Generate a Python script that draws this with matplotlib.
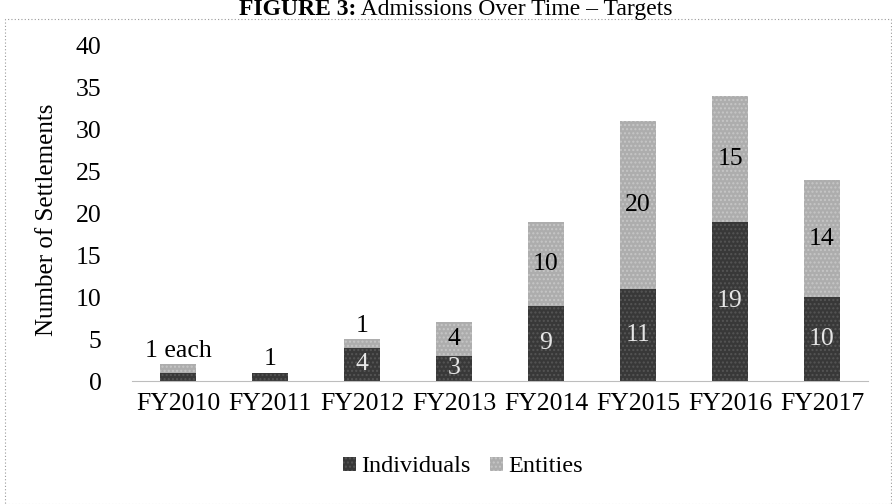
import matplotlib.pyplot as plt
from matplotlib.patches import Rectangle

# data
years = ["FY2010", "FY2011", "FY2012", "FY2013", "FY2014", "FY2015", "FY2016", "FY2017"]
individuals = [1, 1, 4, 3, 9, 11, 19, 10]
entities = [1, 0, 1, 4, 10, 20, 15, 14]
ind_labels = [None, None, "4", "3", "9", "11", "19", "10"]
ent_labels = [None, None, None, "4", "10", "20", "15", "14"]
top_labels = ["1 each", "1", "1", None, None, None, None, None]

plt.rcParams['font.family'] = ['Liberation Serif', 'DejaVu Serif']

W, H = 892, 504
fig = plt.figure(figsize=(W / 100, H / 100), dpi=100)

# axes placed in pixel terms
left, right, y0, y40 = 132, 868, 381, 46
ax = fig.add_axes([left / W, (H - y0) / H, (right - left) / W, (y0 - y40) / H])

dark = "#383838"
light = "#adadad"
x = range(len(years))
ax.bar(x, individuals, width=0.4, color=dark, hatch="....", edgecolor="#555555", linewidth=0, label="Individuals")
ax.bar(x, entities, width=0.4, bottom=individuals, color=light, hatch="....", edgecolor="#c6c6c6", linewidth=0, label="Entities")

fs = 18.5
for i in x:
    if ind_labels[i]:
        ax.text(i, individuals[i] / 2, ind_labels[i], ha="center", va="center", fontsize=fs, color="#e6e6e6")
    if ent_labels[i]:
        ax.text(i, individuals[i] + entities[i] / 2, ent_labels[i], ha="center", va="center", fontsize=fs, color="black")
    if top_labels[i]:
        ax.text(i, individuals[i] + entities[i] + 0.3, top_labels[i], ha="center", va="bottom", fontsize=fs, color="black")

ax.set_xlim(-0.5, len(years) - 0.5)
ax.set_ylim(0, 40)
ax.set_yticks(range(0, 41, 5))
ax.set_xticks(list(x))
ax.set_xticklabels(years)
ax.tick_params(axis="both", length=0, labelsize=fs)
ax.tick_params(axis="x", pad=9)
ax.tick_params(axis="y", pad=22)
for s in ["top", "right", "left"]:
    ax.spines[s].set_visible(False)
ax.spines["bottom"].set_color("#bdbdbd")
ax.spines["bottom"].set_linewidth(0.8)
ax.set_ylabel("Number of Settlements", fontsize=18)
ax.yaxis.set_label_coords(-0.100, 0.48)

fig.legend(loc="center", bbox_to_anchor=(463 / W, 1 - 467 / H), ncol=2, frameon=False,
           fontsize=17.5, handlelength=0.55, handleheight=0.55, handletextpad=0.2, columnspacing=0.8)

# title: bold lead-in plus normal text, centred as one line
ty = 1 - 15 / H
t1 = fig.text(0, ty, "FIGURE 3:", ha="left", va="baseline", fontsize=17, fontweight="bold")
t2 = fig.text(0, ty, " Admissions Over Time – Targets", ha="left", va="baseline", fontsize=17)
r = fig.canvas.get_renderer()
w1 = t1.get_window_extent(r).width
w2 = t2.get_window_extent(r).width
x0 = 456 - (w1 + w2) / 2
t1.set_x(x0 / W)
t2.set_x((x0 + w1) / W)

# dotted frame around chart area
fig.patches.append(Rectangle((5 / W, 0), (W - 6) / W, 1 - 19 / H, transform=fig.transFigure,
                             fill=False, edgecolor="#9a9a9a", linestyle=(0, (1, 2)), linewidth=0.8))

fig.savefig("out.png", dpi=100)
